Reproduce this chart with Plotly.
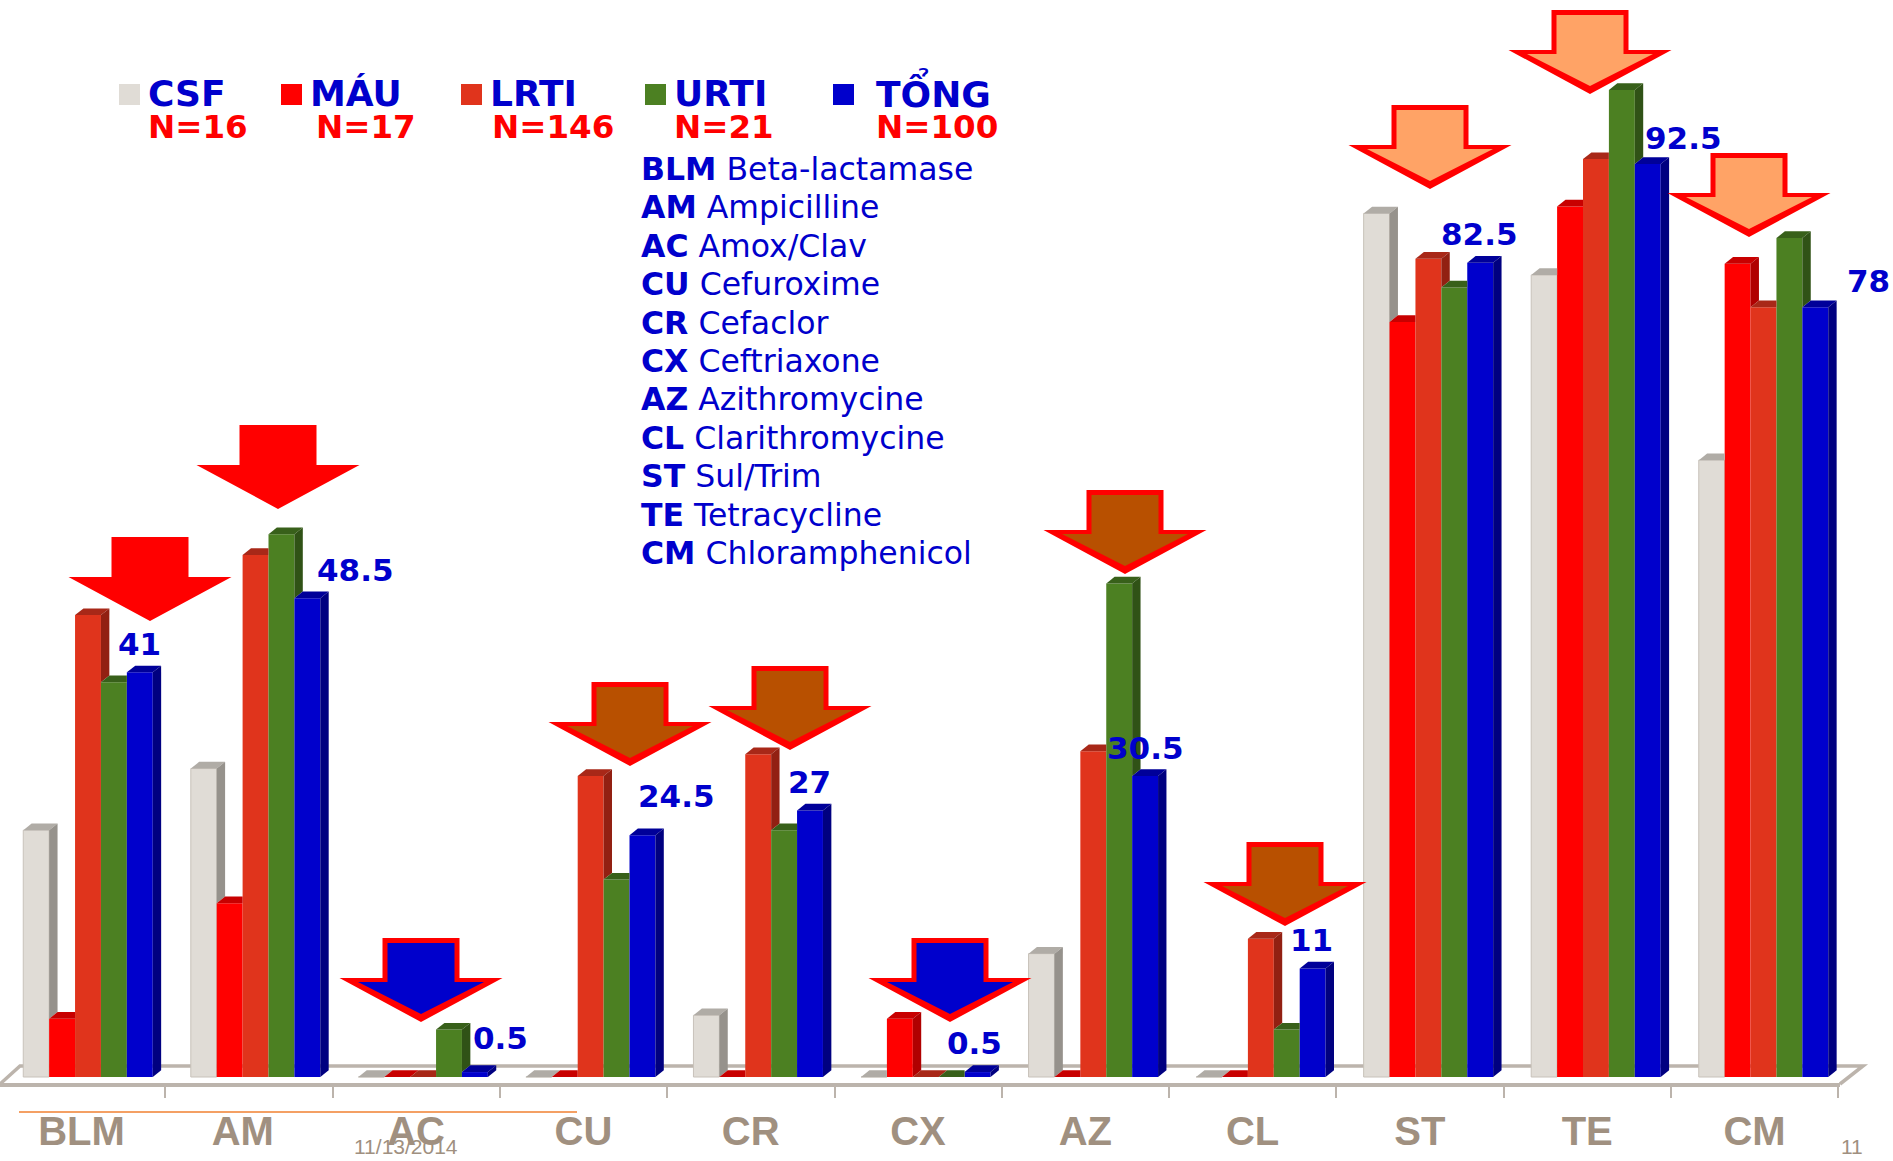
import plotly.graph_objects as go

# Resistance rate (%) per antibiotic and specimen group
categories = ["BLM", "AM", "AC", "CU", "CR", "CX", "AZ", "CL", "ST", "TE", "CM"]
csf = [25, 31.25, 0, 0, 6.25, 0, 12.5, 0, 87.5, 81.25, 62.5]
mau = [5.9, 17.6, 0, 0, 0, 5.9, 0, 0, 76.5, 88.2, 82.4]
lrti = [46.8, 52.9, 0, 30.5, 32.7, 0, 33, 14, 82.9, 93, 78]
urti = [40, 55, 4.8, 20, 25, 0, 50, 4.8, 80, 100, 85]
tong = [41, 48.5, 0.5, 24.5, 27, 0.5, 30.5, 11, 82.5, 92.5, 78]

series_names = ["CSF", "MÁU", "LRTI", "URTI", "TỔNG"]
series_counts = ["N=16", "N=17", "N=146", "N=21", "N=100"]
glossary_codes = categories
glossary_names = ["Beta-lactamase", "Ampicilline", "Amox/Clav", "Cefuroxime", "Cefaclor",
                  "Ceftriaxone", "Azithromycine", "Clarithromycine", "Sul/Trim",
                  "Tetracycline", "Chloramphenicol"]

# Pixel geometry of the plot area
W, H = 1893, 1161
PLOT_R, AXIS_Y = 1840, 1083
BASE_Y = 1077
UNIT_PX = 9.87       # pixels per percentage point
GROUP_PX = 167.55    # pixels per category
TICK_PX = 167.3      # spacing of the axis tick marks
CENTER0 = 88.0       # pixel centre of the first group
BAR_PX = 25.9
DEPTH_X = 8.4 / GROUP_PX
DEPTH_Y = 6.7 / UNIT_PX
BAR_W = BAR_PX / GROUP_PX

face = ["#E0DCD6", "#FF0000", "#E0341C", "#4C8022", "#0000CC"]
side = ["#96928C", "#B00000", "#922012", "#305216", "#000080"]
top = ["#B0ACA6", "#C80000", "#A82818", "#38601A", "#000099"]
edge = ["#C8C2BA", None, None, None, None]

BLUE, RED = "#0000CC", "#FF0000"
TAUPE = "#A09080"
FLOOR = "#BCB4AC"
SANS = "DejaVu Sans"


def px(x):
    return x / PLOT_R


def py(y):
    return (AXIS_Y - y) / AXIS_Y


def data_x(pixel):
    return (pixel - CENTER0) / GROUP_PX


all_series = [csf, mau, lrti, urti, tong]
xs = list(range(len(categories)))
fig = go.Figure()

# Front faces
for name, vals, col, ln in zip(series_names, all_series, face, edge):
    fig.add_trace(go.Bar(
        x=xs, y=vals, name=name, marker_color=col,
        marker_line=dict(color=ln or col, width=1 if ln else 0),
        showlegend=False, hoverinfo="skip"))


def polygon(points, color):
    fig.add_trace(go.Scatter(
        x=[p[0] for p in points], y=[p[1] for p in points], mode="lines",
        fill="toself", fillcolor=color, line=dict(width=0),
        showlegend=False, hoverinfo="skip"))


# Top and side faces of the extruded columns; the next column hides what it overlaps
for g in xs:
    for s in range(5):
        h = all_series[s][g]
        nxt = all_series[s + 1][g] if s < 4 else 0
        x0 = g + (s - 2.5) * BAR_W
        x1 = x0 + BAR_W
        if nxt > h:
            polygon([(x0, h), (x1, h), (x1, h + DEPTH_Y), (x0 + DEPTH_X, h + DEPTH_Y)], top[s])
        else:
            polygon([(x0, h), (x1, h), (x1 + DEPTH_X, h + DEPTH_Y), (x0 + DEPTH_X, h + DEPTH_Y)], top[s])
            polygon([(x1, h), (x1 + DEPTH_X, h + DEPTH_Y), (x1 + DEPTH_X, nxt + DEPTH_Y), (x1, nxt)], side[s])

shapes = []
# Chart floor behind the columns
floor_path = f"M {px(0)} {py(1084)} L {px(20)} {py(1066)} L {px(1863)} {py(1066)} L {px(1840)} {py(1084)}"
shapes.append(dict(type="path", path=floor_path, xref="paper", yref="paper", layer="below",
                   line=dict(color=FLOOR, width=3.5), fillcolor="rgba(0,0,0,0)"))
# Rule under the axis
shapes.append(dict(type="line", xref="paper", yref="paper", x0=px(19), x1=px(577),
                   y0=py(1112), y1=py(1112), line=dict(color="#F08030", width=1.5)))

# Legend swatches
swatch_x = [119, 281, 461, 645, 833]
for sx, col in zip(swatch_x, face):
    shapes.append(dict(type="rect", xref="paper", yref="paper", x0=px(sx), x1=px(sx + 21),
                       y0=py(105), y1=py(84), fillcolor=col, line=dict(width=0)))


def block_arrow(cx, ty, half_shaft, half_wing, shoulder, tip, inset_top=0):
    pts = [(cx - half_shaft, ty + inset_top), (cx + half_shaft, ty + inset_top),
           (cx + half_shaft, ty + shoulder), (cx + half_wing, ty + shoulder), (cx, ty + tip),
           (cx - half_wing, ty + shoulder), (cx - half_shaft, ty + shoulder)]
    return "M " + " L ".join(f"{px(a)} {py(b)}" for a, b in pts) + " Z"


# Callout arrows: centre x, top y, fill colour; a red outer arrow forms the outline
PEACH, BROWN = "#FFA366", "#B85000"
arrow_specs = [
    (150, 537, RED), (278, 425, RED), (421, 938, BLUE),
    (630, 682, BROWN), (790, 666, BROWN), (950, 938, BLUE),
    (1125, 490, BROWN), (1285, 842, BROWN), (1430, 105, PEACH),
    (1590, 10, PEACH), (1749, 153, PEACH),
]
for cx, ty, fill in arrow_specs:
    shapes.append(dict(type="path", path=block_arrow(cx, ty, 38.5, 81.5, 40, 84),
                       xref="paper", yref="paper", fillcolor=RED, line=dict(width=0)))
    if fill != RED:
        shapes.append(dict(type="path", path=block_arrow(cx, ty, 33.5, 63, 44, 76, inset_top=5),
                           xref="paper", yref="paper", fillcolor=fill, line=dict(width=0)))

annotations = []


def label(x, y, text, size, color, anchor="left", family=SANS):
    annotations.append(dict(x=px(x), y=py(y), xref="paper", yref="paper", text=text,
                            showarrow=False, xanchor=anchor, yanchor="middle",
                            font=dict(family=family, size=size, color=color)))


# Legend text
name_x = [146, 308, 488, 672, 874]
count_x = [146, 314, 490, 672, 874]
name_y = [94, 94, 94, 94, 92]
for nx, ny, cx, nm, cnt in zip(name_x, name_y, count_x, series_names, series_counts):
    label(nx, ny, f"<b>{nm}</b>", 36, BLUE)
    label(cx, 127, f"<b>{cnt}</b>", 32.5, RED)

# Antibiotic glossary
for i, (code, nm) in enumerate(zip(glossary_codes, glossary_names)):
    label(639, 169 + 38.4 * i, f"<b>{code}</b>\u00a0{nm}", 31.5, BLUE)

# Overall values next to the TỔNG columns
value_pos = [(139, 644), (355, 570), (500, 1038), (676, 796), (809, 782), (975, 1043),
             (1145, 748), (1311, 940), (1479, 234), (1683, 138), (1868, 281)]
for (vx, vy), v in zip(value_pos, tong):
    label(vx, vy, f"<b>{v:g}</b>", 31, BLUE, anchor="center")

# Slide footer
label(406, 1146, "11/13/2014", 21, TAUPE, anchor="center", family="Liberation Sans")
label(1852, 1146, "11", 21, TAUPE, anchor="center", family="Liberation Sans")

fig.update_layout(
    width=W, height=H, autosize=False,
    margin=dict(l=0, r=W - PLOT_R, t=0, b=H - AXIS_Y, pad=0),
    paper_bgcolor="white", plot_bgcolor="rgba(0,0,0,0)",
    barmode="group", bargap=1 - 5 * BAR_W, bargroupgap=0,
    shapes=shapes, annotations=annotations, showlegend=False,
    xaxis=dict(
        type="linear", automargin=False,
        range=[data_x(0), data_x(PLOT_R)],
        tickmode="array",
        tickvals=[data_x(81.5 + TICK_PX * i - (6 if c == "AM" else 0)) for i, c in enumerate(categories)],
        ticktext=categories,
        ticks="", showgrid=False, zeroline=False,
        showline=True, linecolor=FLOOR, linewidth=3.5,
        ticklabelstandoff=10,
        tickfont=dict(family="Liberation Sans", size=40, color=TAUPE, weight="bold"),
        minor=dict(tickmode="array",
                   tickvals=[data_x(-2 + TICK_PX * k) for k in range(1, len(categories) + 1)],
                   ticks="outside", ticklen=11, tickwidth=2, tickcolor=FLOOR, showgrid=False),
    ),
    yaxis=dict(visible=False, automargin=False, range=[(BASE_Y - AXIS_Y) / UNIT_PX, BASE_Y / UNIT_PX]),
)

fig.write_html("out.html", config={"displayModeBar": False})
